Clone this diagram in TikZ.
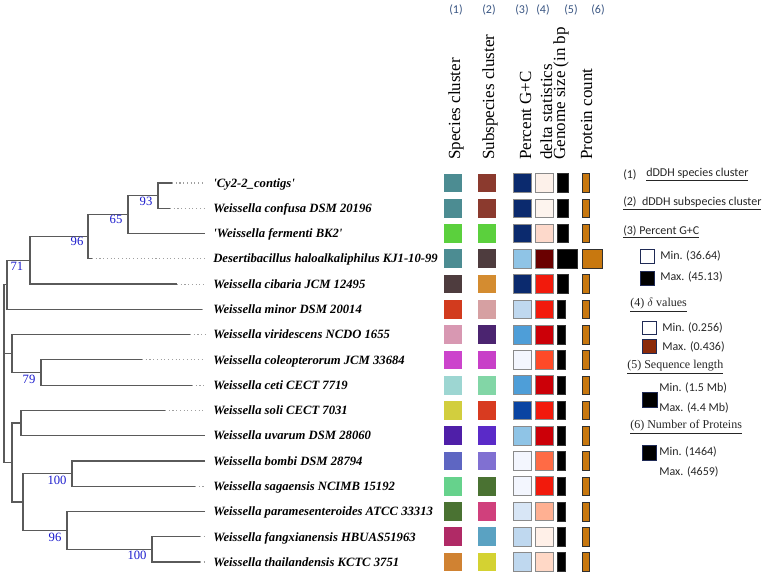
\documentclass[tikz,border=0pt]{standalone}
\usepackage{fontspec}
\setmainfont{Liberation Serif}
\newfontfamily\calfont{Carlito}
\definecolor{treegray}{HTML}{5A5A5A}
\definecolor{dotgray}{HTML}{A0A0A0}
\definecolor{bootblue}{HTML}{1A1ACD}
\definecolor{headblue}{HTML}{3A5683}
\definecolor{boxgray}{HTML}{8A8A8A}
\definecolor{protorange}{HTML}{C8780F}
\definecolor{edgedark}{HTML}{303030}
\definecolor{legnavy}{HTML}{1F2A55}
\definecolor{deltamax}{HTML}{8B2A0A}
\newcommand\datarow[8]{%
 \definecolor{ca}{HTML}{#3}\definecolor{cb}{HTML}{#4}\definecolor{cc}{HTML}{#5}\definecolor{cd}{HTML}{#6}%
 \node[sqbox,fill=ca] (p#1a) at (452.5,#2) {};
 \node[sqbox,fill=cb] (p#1b) at (487,#2) {};
 \node[sqbox,fill=cc,draw=boxgray] (p#1c) at (522,#2) {};
 \node[sqbox,fill=cd,draw=boxgray] (p#1d) at (544,#2) {};
 \node[barbox,fill=black,minimum width=#7] (p#1e) at (557,#2) {};
 \node[barbox,fill=protorange,minimum width=#8] (p#1f) at (582,#2) {};
}
\begin{document}
\begin{tikzpicture}[x=0.75pt,y=-0.75pt,
  branch/.style={draw=treegray,line width=0.9pt},
  dotbranch/.style={draw=dotgray,dotted,line width=0.8pt},
  leaf/.style={font=\fontsize{9.5}{11}\selectfont\bfseries\itshape,anchor=base west,inner sep=0},
  boot/.style={font=\fontsize{9.5}{11}\selectfont,text=bootblue,inner sep=0},
  sqbox/.style={minimum width=13.5pt,minimum height=14pt,inner sep=0,outer sep=0,line width=0.6pt},
  barbox/.style={anchor=west,minimum height=14pt,inner sep=0,outer sep=0,draw=edgedark,line width=0.5pt},
  colhead/.style={font=\calfont\fontsize{9}{11}\selectfont,text=headblue,inner sep=0},
  rothead/.style={font=\fontsize{12.75}{14}\selectfont,rotate=90,anchor=base west,inner sep=0},
  legtext/.style={font=\calfont\fontsize{9}{11}\selectfont,anchor=west,inner sep=0,text=black!85},
  legser/.style={font=\fontsize{9}{11}\selectfont,anchor=west,inner sep=0,text=black!85},
  legbox/.style={minimum width=11pt,minimum height=10pt,inner sep=0,draw=legnavy,line width=0.8pt}
]
\useasboundingbox (0,0) rectangle (767,584);

% ---------- rows ----------
\def\ra{183}\def\rb{208.3}\def\rc{233.5}\def\rd{258.8}
\def\re{284.1}\def\rf{309.4}\def\rg{334.6}\def\rh{359.9}
\def\ri{385.2}\def\rj{410.4}\def\rk{435.7}\def\rl{461}
\def\rm{486.2}\def\rn{511.5}\def\ro{536.8}\def\rp{562}

% solid ends and dotted ends of leaf branches
\coordinate (s1) at (172,\ra);  \coordinate (t1) at (205,\ra);
\coordinate (s2) at (170,\rb);  \coordinate (t2) at (205,\rb);
\coordinate (s3) at (205,\rc);  \coordinate (t3) at (205,\rc);
\coordinate (s4) at (92,\rd);   \coordinate (t4) at (205,\rd);
\coordinate (s5) at (177,\re);  \coordinate (t5) at (205,\re);
\coordinate (s6) at (202,\rf);  \coordinate (t6) at (205,\rf);
\coordinate (s7) at (190,\rg);  \coordinate (t7) at (205,\rg);
\coordinate (s8) at (142,\rh);  \coordinate (t8) at (205,\rh);
\coordinate (s9) at (192,\ri);  \coordinate (t9) at (205,\ri);
\coordinate (s10) at (165,\rj); \coordinate (t10) at (205,\rj);
\coordinate (s11) at (205,\rk); \coordinate (t11) at (205,\rk);
\coordinate (s12) at (205,\rl); \coordinate (t12) at (205,\rl);
\coordinate (s13) at (195,\rm); \coordinate (t13) at (205,\rm);
\coordinate (s14) at (205,\rn); \coordinate (t14) at (205,\rn);
\coordinate (s15) at (200,\ro); \coordinate (t15) at (205,\ro);
\coordinate (s16) at (200,\rp); \coordinate (t16) at (205,\rp);

% internal nodes
\coordinate (A) at (158,195.6);
\coordinate (B) at (128,214.6);
\coordinate (C) at (88,236.7);
\coordinate (D) at (30,260.4);
\coordinate (E) at (7,284.9);
\coordinate (G) at (41,372.5);
\coordinate (F) at (12,353.6);
\coordinate (H) at (21,423);
\coordinate (K) at (72,473.6);
\coordinate (M) at (152,549.4);
\coordinate (L) at (67,530.5);
\coordinate (J) at (23,502);
\coordinate (I) at (12,462.5);
\coordinate (R) at (4,353.6);

\draw[branch] (s1) -| (A) |- (s2);
\draw[branch] (A) -| (B) |- (s3);
\draw[branch] (B) -| (C) |- (s4);
\draw[branch] (C) -| (D) |- (s5);
\draw[branch] (D) -| (E) |- (s6);
\draw[branch] (s8) -| (G) |- (s9);
\draw[branch] (s7) -| (F) |- (G);
\draw[branch] (s10) -| (H) |- (s11);
\draw[branch] (s12) -| (K) |- (s13);
\draw[branch] (s15) -| (M) |- (s16);
\draw[branch] (s14) -| (L) |- (M);
\draw[branch] (K) -| (J) |- (L);
\draw[branch] (H) -| (I) |- (J);
\draw[branch] (E) -| (R) |- (I);
\draw[branch] (R) -- (F);

\foreach \k in {1,2,4,5,6,7,8,9,10,13,15,16}{\draw[dotbranch] (s\k) -- (t\k);}

% bootstrap values
\node[boot] (bs1) at (146,201) {93};
\node[boot] (bs2) at (116,219) {65};
\node[boot] (bs3) at (77,241) {96};
\node[boot] (bs4) at (17,266) {71};
\node[boot] (bs5) at (29,379) {79};
\node[boot] (bs6) at (57,480) {100};
\node[boot] (bs7) at (55,537) {96};
\node[boot] (bs8) at (137,555) {100};

% leaf labels
\node[leaf] (L1) at (213,\ra+4.2) {\textquotesingle Cy2-2\_contigs\textquotesingle};
\node[leaf] (L2) at (213,\rb+4.2) {Weissella confusa DSM 20196};
\node[leaf] (L3) at (213,\rc+4.2) {\textquotesingle Weissella fermenti BK2\textquotesingle};
\node[leaf] (L4) at (213,\rd+4.2) {Desertibacillus haloalkaliphilus KJ1-10-99};
\node[leaf] (L5) at (213,\re+4.2) {Weissella cibaria JCM 12495};
\node[leaf] (L6) at (213,\rf+4.2) {Weissella minor DSM 20014};
\node[leaf] (L7) at (213,\rg+4.2) {Weissella viridescens NCDO 1655};
\node[leaf] (L8) at (213,\rh+4.2) {Weissella coleopterorum JCM 33684};
\node[leaf] (L9) at (213,\ri+4.2) {Weissella ceti CECT 7719};
\node[leaf] (L10) at (213,\rj+4.2) {Weissella soli CECT 7031};
\node[leaf] (L11) at (213,\rk+4.2) {Weissella uvarum DSM 28060};
\node[leaf] (L12) at (213,\rl+4.2) {Weissella bombi DSM 28794};
\node[leaf] (L13) at (213,\rm+4.2) {Weissella sagaensis NCIMB 15192};
\node[leaf] (L14) at (213,\rn+4.2) {Weissella paramesenteroides ATCC 33313};
\node[leaf] (L15) at (213,\ro+4.2) {Weissella fangxianensis HBUAS51963};
\node[leaf] (L16) at (213,\rp+4.2) {Weissella thailandensis KCTC 3751};

% data columns
\datarow{1}{\ra}{4C8C92}{8B3A2E}{0B2A6E}{FDF1EA}{8.25pt}{5.8pt}
\datarow{2}{\rb}{4C8C92}{8B3A2E}{0B2A6E}{FDF4EE}{8.25pt}{5.8pt}
\datarow{3}{\rc}{5BD03D}{5BD03D}{0B2A6E}{FDD9CB}{8.25pt}{5.8pt}
\datarow{4}{\rd}{4C8C92}{4E3C3E}{8FC4E6}{6A0000}{15pt}{15pt}
\datarow{5}{\re}{4E3C3E}{D48C30}{0B2A6E}{F21A0C}{8.25pt}{5.8pt}
\datarow{6}{\rf}{D23B1E}{D6A0A2}{BFD8EF}{F21A0C}{6.4pt}{5.8pt}
\datarow{7}{\rg}{D898B2}{4B2470}{4E9ED8}{CC0008}{6.4pt}{5.8pt}
\datarow{8}{\rh}{CC44CC}{C840C8}{F3F6FE}{FF4A28}{6.4pt}{5.8pt}
\datarow{9}{\ri}{9DD6D2}{82D6A6}{4E9ED8}{CC0008}{6.4pt}{5.8pt}
\datarow{10}{\rj}{D2CE3E}{D83B20}{0A44A2}{F21A0C}{6.4pt}{5.8pt}
\datarow{11}{\rk}{4F1FA8}{5A2AC8}{8FC4E6}{CC0008}{6.4pt}{5.8pt}
\datarow{12}{\rl}{5E66C2}{8070D2}{F3F6FE}{FF6B45}{6.4pt}{5.8pt}
\datarow{13}{\rm}{66D28C}{4A7232}{F3F6FE}{F21A0C}{6.4pt}{5.8pt}
\datarow{14}{\rn}{4A7232}{D0407C}{D8E6F6}{FFB092}{6.4pt}{5.8pt}
\datarow{15}{\ro}{B02A66}{5AA2C2}{BFD8EF}{FFF0E8}{6.4pt}{5.8pt}
\datarow{16}{\rp}{D08232}{D4D232}{BFD8EF}{FFD8C6}{6.4pt}{5.8pt}

% column numbers
\node[colhead] (h1) at (456,10) {(1)};
\node[colhead] (h2) at (489,10) {(2)};
\node[colhead] (h3) at (522,10) {(3)};
\node[colhead] (h4) at (543,10) {(4)};
\node[colhead] (h5) at (571,10) {(5)};
\node[colhead] (h6) at (598,10) {(6)};

% rotated column titles
\node[rothead] (v1) at (460,160) {Species cluster};
\node[rothead] (v2) at (494,160) {Subspecies cluster};
\node[rothead] (v3) at (531,160) {Percent G+C};
\node[rothead] (v4) at (552,160) {delta statistics};
\node[rothead] (v5) at (565,160) {Genome size (in bp};
\node[rothead] (v6) at (592,160) {Protein count};

% legend
\node[legtext] (g1n) at (623,175) {(1)};
\node[legtext] (g1) at (646,175) {\underline{dDDH species cluster}};
\node[legtext] (g2) at (623,203) {\underline{(2)\ \ dDDH subspecies cluster}};
\node[legtext] (g3) at (623,232) {\underline{(3) Percent G+C}};
\node[legbox,fill=white] (k1) at (647.5,256.5) {};
\node[legtext] (m1) at (660,256) {Min. (36.64)};
\node[legbox,fill=black] (k2) at (647.5,278.5) {};
\node[legtext] (x1) at (660,277) {Max. (45.13)};
\node[legser] (g4) at (630,305) {\underline{(4) $\delta$ values}};
\node[legbox,fill=white] (k3) at (649.5,328) {};
\node[legtext] (m2) at (662,328) {Min. (0.256)};
\node[legbox,fill=deltamax] (k4) at (649.5,346.5) {};
\node[legtext] (x2) at (662,347) {Max. (0.436)};
\node[legser] (g5) at (627,367) {\underline{(5) Sequence length}};
\node[legbox,fill=black,minimum height=11pt] (k5) at (650,400) {};
\node[legtext] (m3) at (659,388) {Min. (1.5 Mb)};
\node[legtext] (x3) at (659,408) {Max. (4.4 Mb)};
\node[legser] (g6) at (630,427) {\underline{(6) Number of Proteins}};
\node[legbox,fill=black,minimum height=11pt] (k6) at (649.5,453) {};
\node[legtext] (m4) at (659,452) {Min. (1464)};
\node[legtext] (x4) at (659,472) {Max. (4659)};
\end{tikzpicture}
\end{document}
